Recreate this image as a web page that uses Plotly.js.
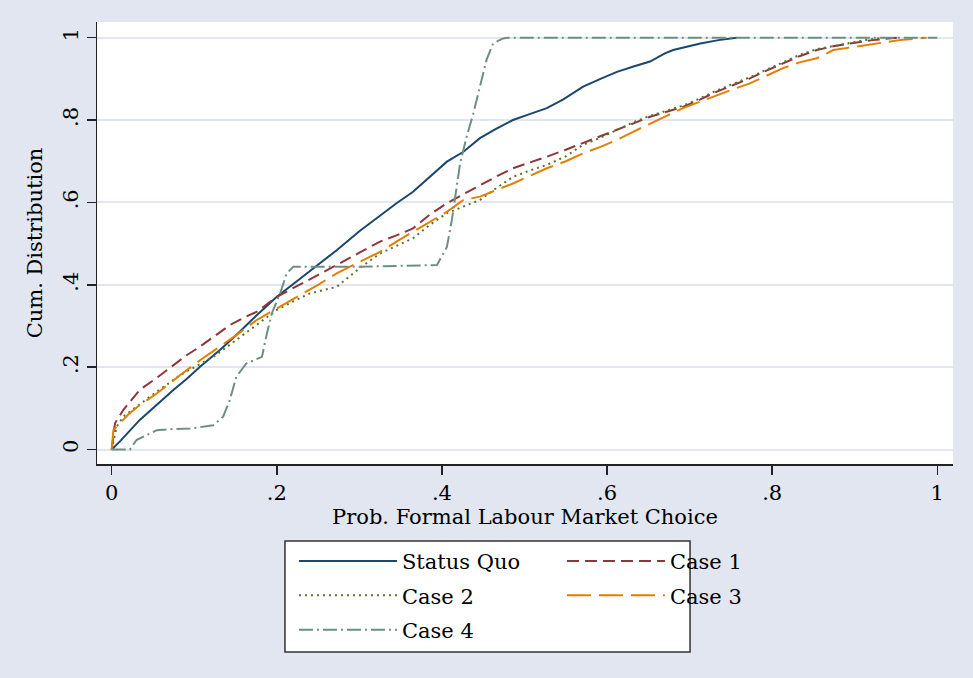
<!DOCTYPE html>
<html>
<head>
<meta charset="utf-8">
<script src="https://cdn.plot.ly/plotly-3.0.1.min.js"></script>
<style>
  html, body { margin: 0; padding: 0; background: #e1e6f0; }
  #chart { width: 973px; height: 678px; }
</style>
</head>
<body>
<div id="chart"></div>
<script>
// Cumulative distributions of the predicted probability of choosing the formal labour market
const tickVals = [0, 0.2, 0.4, 0.6, 0.8, 1];
const tickText = ["0", ".2", ".4", ".6", ".8", "1"];

const statusQuoX = [0, 0.01, 0.034, 0.055, 0.075, 0.09, 0.107, 0.13, 0.151, 0.175, 0.2, 0.225, 0.25, 0.2725, 0.30, 0.325, 0.345, 0.365, 0.385, 0.406, 0.426, 0.446, 0.466, 0.486, 0.507, 0.527, 0.547, 0.571, 0.592, 0.612, 0.632, 0.652, 0.67, 0.68, 0.713, 0.735, 0.757];
const statusQuoY = [0, 0.02, 0.072, 0.11, 0.145, 0.17, 0.201, 0.24, 0.278, 0.325, 0.371, 0.41, 0.448, 0.484, 0.53, 0.569, 0.598, 0.626, 0.662, 0.699, 0.723, 0.756, 0.779, 0.80, 0.815, 0.829, 0.85, 0.881, 0.90, 0.917, 0.93, 0.942, 0.962, 0.97, 0.986, 0.994, 1.0];

const case1X = [0, 0.002, 0.004, 0.014, 0.034, 0.0545, 0.075, 0.09, 0.107, 0.125, 0.143, 0.16, 0.176, 0.2, 0.218, 0.236, 0.255, 0.2725, 0.30, 0.325, 0.345, 0.365, 0.385, 0.406, 0.426, 0.446, 0.466, 0.486, 0.507, 0.527, 0.55, 0.571, 0.592, 0.612, 0.632, 0.652, 0.672, 0.692, 0.713, 0.733, 0.753, 0.773, 0.793, 0.813, 0.833, 0.854, 0.874, 0.894, 0.922, 0.951];
const case1Y = [0, 0.035, 0.064, 0.096, 0.145, 0.174, 0.205, 0.228, 0.25, 0.277, 0.302, 0.32, 0.335, 0.371, 0.39, 0.408, 0.428, 0.448, 0.478, 0.505, 0.52, 0.537, 0.57, 0.598, 0.62, 0.642, 0.663, 0.683, 0.697, 0.711, 0.728, 0.744, 0.76, 0.776, 0.792, 0.808, 0.82, 0.832, 0.85, 0.869, 0.885, 0.901, 0.92, 0.937, 0.955, 0.97, 0.979, 0.986, 0.994, 1.0];

const case2X = [0, 0.003, 0.006, 0.014, 0.03, 0.046, 0.065, 0.083, 0.103, 0.123, 0.14, 0.159, 0.18, 0.2, 0.22, 0.24, 0.2725, 0.30, 0.325, 0.345, 0.365, 0.385, 0.406, 0.426, 0.446, 0.466, 0.486, 0.507, 0.527, 0.55, 0.571, 0.592, 0.612, 0.632, 0.652, 0.672, 0.692, 0.713, 0.733, 0.753, 0.773, 0.793, 0.813, 0.833, 0.854, 0.874, 0.894, 0.915, 0.935];
const case2Y = [0, 0.03, 0.055, 0.08, 0.105, 0.128, 0.155, 0.181, 0.203, 0.225, 0.25, 0.278, 0.31, 0.339, 0.36, 0.379, 0.395, 0.44, 0.476, 0.495, 0.513, 0.545, 0.574, 0.59, 0.606, 0.635, 0.662, 0.678, 0.691, 0.712, 0.74, 0.757, 0.776, 0.795, 0.81, 0.822, 0.835, 0.853, 0.872, 0.888, 0.904, 0.922, 0.94, 0.958, 0.972, 0.98, 0.988, 0.995, 1.0];

const case3X = [0, 0.002, 0.01, 0.02, 0.034, 0.0545, 0.07, 0.083, 0.107, 0.13, 0.151, 0.176, 0.2, 0.216, 0.232, 0.25, 0.2725, 0.30, 0.325, 0.345, 0.365, 0.385, 0.406, 0.426, 0.446, 0.466, 0.486, 0.507, 0.527, 0.55, 0.571, 0.592, 0.612, 0.632, 0.652, 0.672, 0.692, 0.713, 0.733, 0.753, 0.773, 0.793, 0.813, 0.833, 0.854, 0.874, 0.894, 0.914, 0.934, 0.954, 0.987];
const case3Y = [0, 0.047, 0.064, 0.085, 0.108, 0.136, 0.16, 0.181, 0.217, 0.248, 0.278, 0.315, 0.343, 0.36, 0.379, 0.40, 0.428, 0.455, 0.48, 0.505, 0.529, 0.553, 0.577, 0.606, 0.614, 0.63, 0.646, 0.665, 0.683, 0.70, 0.719, 0.735, 0.752, 0.772, 0.792, 0.81, 0.829, 0.845, 0.861, 0.875, 0.889, 0.908, 0.926, 0.94, 0.95, 0.97, 0.976, 0.982, 0.988, 0.994, 1.0];

const case4X = [0, 0.022, 0.03, 0.0545, 0.075, 0.095, 0.123, 0.135, 0.143, 0.151, 0.163, 0.182, 0.188, 0.194, 0.204, 0.212, 0.22, 0.30, 0.394, 0.40, 0.406, 0.412, 0.416, 0.422, 0.43, 0.438, 0.446, 0.454, 0.462, 0.474, 0.48, 1.0];
const case4Y = [0, 0, 0.023, 0.047, 0.05, 0.051, 0.059, 0.08, 0.12, 0.177, 0.209, 0.225, 0.282, 0.331, 0.379, 0.428, 0.444, 0.444, 0.448, 0.47, 0.492, 0.557, 0.614, 0.695, 0.76, 0.816, 0.881, 0.946, 0.986, 0.998, 1.0, 1.0];

const FONT = "DejaVu Serif, Liberation Serif, serif";
const FS = 21;

function series(name, xs, ys, color, dash, legend) {
  return {
    type: "scatter", mode: "lines", name: name, x: xs, y: ys,
    line: { color: color, width: 2, dash: dash },
    legend: legend, legendgroup: name, hoverinfo: "skip"
  };
}

const traces = [
  series("Status Quo", statusQuoX, statusQuoY, "#1a476f", "solid", "legend"),
  series("Case 1", case1X, case1Y, "#90353b", "12px,6px", "legend2"),
  series("Case 2", case2X, case2Y, "#55752f", "2px,4px", "legend"),
  series("Case 3", case3X, case3Y, "#e37e00", "24px,8px", "legend2"),
  series("Case 4", case4X, case4Y, "#6e8e84", "14px,4px,2px,4px", "legend")
];

const legendStyle = {
  orientation: "v", xanchor: "left", yanchor: "top", y: -0.174,
  bgcolor: "rgba(0,0,0,0)", borderwidth: 0,
  font: { family: FONT, size: FS, color: "#000" },
  itemwidth: 98, tracegroupgap: 4, traceorder: "grouped"
};

const layout = {
  width: 973, height: 678,
  margin: { l: 97, r: 20, t: 22, b: 214 },
  paper_bgcolor: "#e1e6f0",
  plot_bgcolor: "#ffffff",
  font: { family: FONT, size: FS, color: "#000" },
  showlegend: true,
  xaxis: {
    range: [-0.0178, 1.019], tickvals: tickVals, ticktext: tickText,
    showgrid: false, zeroline: false,
    showline: true, linecolor: "#222", linewidth: 1.5,
    ticks: "outside", ticklen: 9, tickwidth: 1.5, tickcolor: "#222",
    tickfont: { family: FONT, size: FS, color: "#000" },
    title: { text: "Prob. Formal Labour Market Choice", font: { family: FONT, size: FS, color: "#000" }, standoff: 0 },
    automargin: false
  },
  yaxis: {
    range: [-0.035, 1.038], tickvals: tickVals, ticktext: tickText,
    showgrid: true, gridcolor: "#e1e6f0", gridwidth: 2, zeroline: false,
    showline: true, linecolor: "#222", linewidth: 1.5,
    ticks: "outside", ticklen: 9, tickwidth: 1.5, tickcolor: "#222",
    tickangle: -90,
    tickfont: { family: FONT, size: FS, color: "#000" },
    title: { text: "Cum. Distribution", font: { family: FONT, size: FS, color: "#000" }, standoff: 10 },
    automargin: false
  },
  legend: Object.assign({}, legendStyle, { x: 0.2301 }),
  legend2: Object.assign({}, legendStyle, { x: 0.5432 }),
  shapes: [{
    type: "rect", xref: "paper", yref: "paper", layer: "below",
    x0: 0.2196, x1: 0.6928, y0: -0.1742, y1: -0.4253,
    fillcolor: "#ffffff", line: { color: "#333", width: 1.5 }
  }]
};

Plotly.newPlot("chart", traces, layout, { displayModeBar: false, staticPlot: true });
</script>
</body>
</html>
